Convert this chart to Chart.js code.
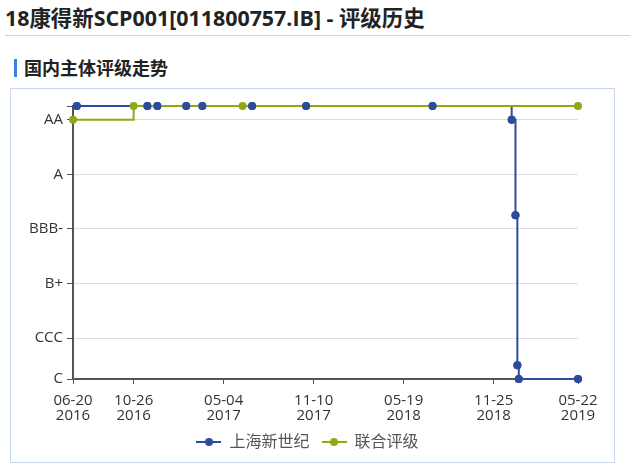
<!DOCTYPE html>
<html><head><meta charset="utf-8">
<script src="https://cdn.jsdelivr.net/npm/chart.js@4.4.0/dist/chart.umd.min.js"></script>
<style>
html,body{margin:0;padding:0;background:#fff;width:630px;height:469px;overflow:hidden;font-family:'Open Sans','Noto Sans CJK SC',sans-serif;}
#title{position:absolute;left:5px;top:5px;font-size:21.4px;font-weight:bold;color:#222;line-height:26px;white-space:nowrap;}
#rule{position:absolute;left:5px;top:35px;width:625px;height:1px;background:#d0d0d0;}
#bar{position:absolute;left:14px;top:59px;width:3px;height:18px;background:#3e7fe0;}
#sub{position:absolute;left:24px;top:57px;font-size:18px;font-weight:bold;color:#222;line-height:22px;white-space:nowrap;}
#box{position:absolute;left:10px;top:88px;width:603px;height:373px;border:1px solid #c9d7ee;}
#box canvas{position:absolute;left:0;top:0;}
</style></head><body>
<div id="title">18康得新SCP001[011800757.IB] - 评级历史</div>
<div id="rule"></div>
<div id="bar"></div>
<div id="sub">国内主体评级走势</div>
<div id="box"><canvas id="c" width="603" height="373"></canvas></div>
<script>
// ---- data ----
const seriesNames = ['上海新世纪', '联合评级'];
const blueDates = ['2016-06-28','2016-11-24','2016-12-15','2017-02-14','2017-03-20','2017-07-03','2017-10-25','2018-07-19','2019-01-02','2019-01-10','2019-01-14','2019-01-17','2019-05-22'];
const blueRatings = [20,20,20,20,20,20,20,20,19,12,1,0,0];
const greenDates = ['2016-06-20','2016-10-26','2017-06-13','2019-05-22'];
const greenRatings = [19,20,20,20];
const xTickDates = ['2016-06-20','2016-10-26','2017-05-04','2017-11-10','2018-05-19','2018-11-25','2019-05-22'];
const yTickValues = [0,3,7,11,15,19,20];
const yTickLabels = ['C','CCC','B+','BBB-','A','AA',''];

const BLUE = '#2d4b9c';
const GREEN = '#8cab12';
const FONT = "'Open Sans','Noto Sans CJK SC',sans-serif";

const toTs = s => { const [y,m,d] = s.split('-').map(Number); return Date.UTC(y, m-1, d); };
const pad2 = n => String(n).padStart(2,'0');
const fmt = v => { const d = new Date(v); return [pad2(d.getUTCMonth()+1)+'-'+pad2(d.getUTCDate()), String(d.getUTCFullYear())]; };

function marker(color){
  const c = document.createElement('canvas'); c.width = 25; c.height = 10;
  const g = c.getContext('2d');
  g.strokeStyle = color; g.lineWidth = 2;
  g.beginPath(); g.moveTo(0,5); g.lineTo(25,5); g.stroke();
  g.fillStyle = color; g.beginPath(); g.arc(12.5,5,4,0,Math.PI*2); g.fill();
  return c;
}
const markers = [marker(BLUE), marker(GREEN)];

const bluePts = blueDates.map((d,i) => ({x: toTs(d), y: blueRatings[i]}));
const greenPts = greenDates.map((d,i) => ({x: toTs(d), y: greenRatings[i]}));

const legendShift = {
  id: 'legendShift',
  afterLayout(chart) {
    const l = chart.legend;
    if (l) { l.left += 13; l.right += 13; }
  }
};

new Chart(document.getElementById('c'), {
  type: 'line',
  plugins: [legendShift],
  data: {
    datasets: [
      {label: seriesNames[0], data: bluePts, borderColor: BLUE, backgroundColor: BLUE, stepped: true, borderWidth: 2, pointRadius: 4, pointBorderWidth: 0, order: 2, clip: false},
      {label: seriesNames[1], data: greenPts, borderColor: GREEN, backgroundColor: GREEN, stepped: true, borderWidth: 2, pointRadius: 4, pointBorderWidth: 0, order: 1, clip: false},
      {label: '_pts', data: bluePts, borderColor: BLUE, backgroundColor: BLUE, showLine: false, pointRadius: 4, pointBorderWidth: 0, order: 0, clip: false}
    ]
  },
  options: {
    responsive: false,
    animation: false,
    layout: {padding: {left: 0, right: 36, top: 17, bottom: 2}},
    plugins: {
      tooltip: {enabled: false},
      legend: {
        position: 'bottom',
        labels: {
          usePointStyle: true, pointStyleWidth: 25, padding: 12, color: '#555',
          font: {family: FONT, size: 16},
          filter: it => it.datasetIndex < 2,
          sort: (a,b) => a.datasetIndex - b.datasetIndex,
          generateLabels: chart => {
            const items = Chart.defaults.plugins.legend.labels.generateLabels(chart);
            items.forEach(it => { if (it.datasetIndex < 2) it.pointStyle = markers[it.datasetIndex]; });
            return items;
          }
        }
      }
    },
    scales: {
      x: {
        type: 'linear',
        min: toTs(xTickDates[0]), max: toTs(xTickDates[xTickDates.length-1]),
        afterBuildTicks: s => { s.ticks = xTickDates.map(d => ({value: toTs(d)})); },
        afterFit: s => { s.height = 43; },
        grid: {drawOnChartArea: false, tickLength: 5, tickColor: '#555'},
        border: {color: '#555', width: 2},
        ticks: {autoSkip: false, maxRotation: 0, padding: 9, color: '#333', font: {family: FONT, size: 15, lineHeight: 1}, callback: v => fmt(v)}
      },
      y: {
        type: 'linear', min: 0, max: 20,
        afterBuildTicks: s => { s.ticks = yTickValues.map(v => ({value: v})); },
        afterFit: s => { s.width = 62; },
        grid: {color: '#dcdcdc', tickColor: '#555', tickLength: 6},
        border: {color: '#555', width: 2},
        ticks: {padding: 4, color: '#333', font: {family: FONT, size: 15}, callback: v => { const i = yTickValues.indexOf(v); return i >= 0 ? yTickLabels[i] : ''; }}
      }
    }
  }
});
</script>
</body></html>
